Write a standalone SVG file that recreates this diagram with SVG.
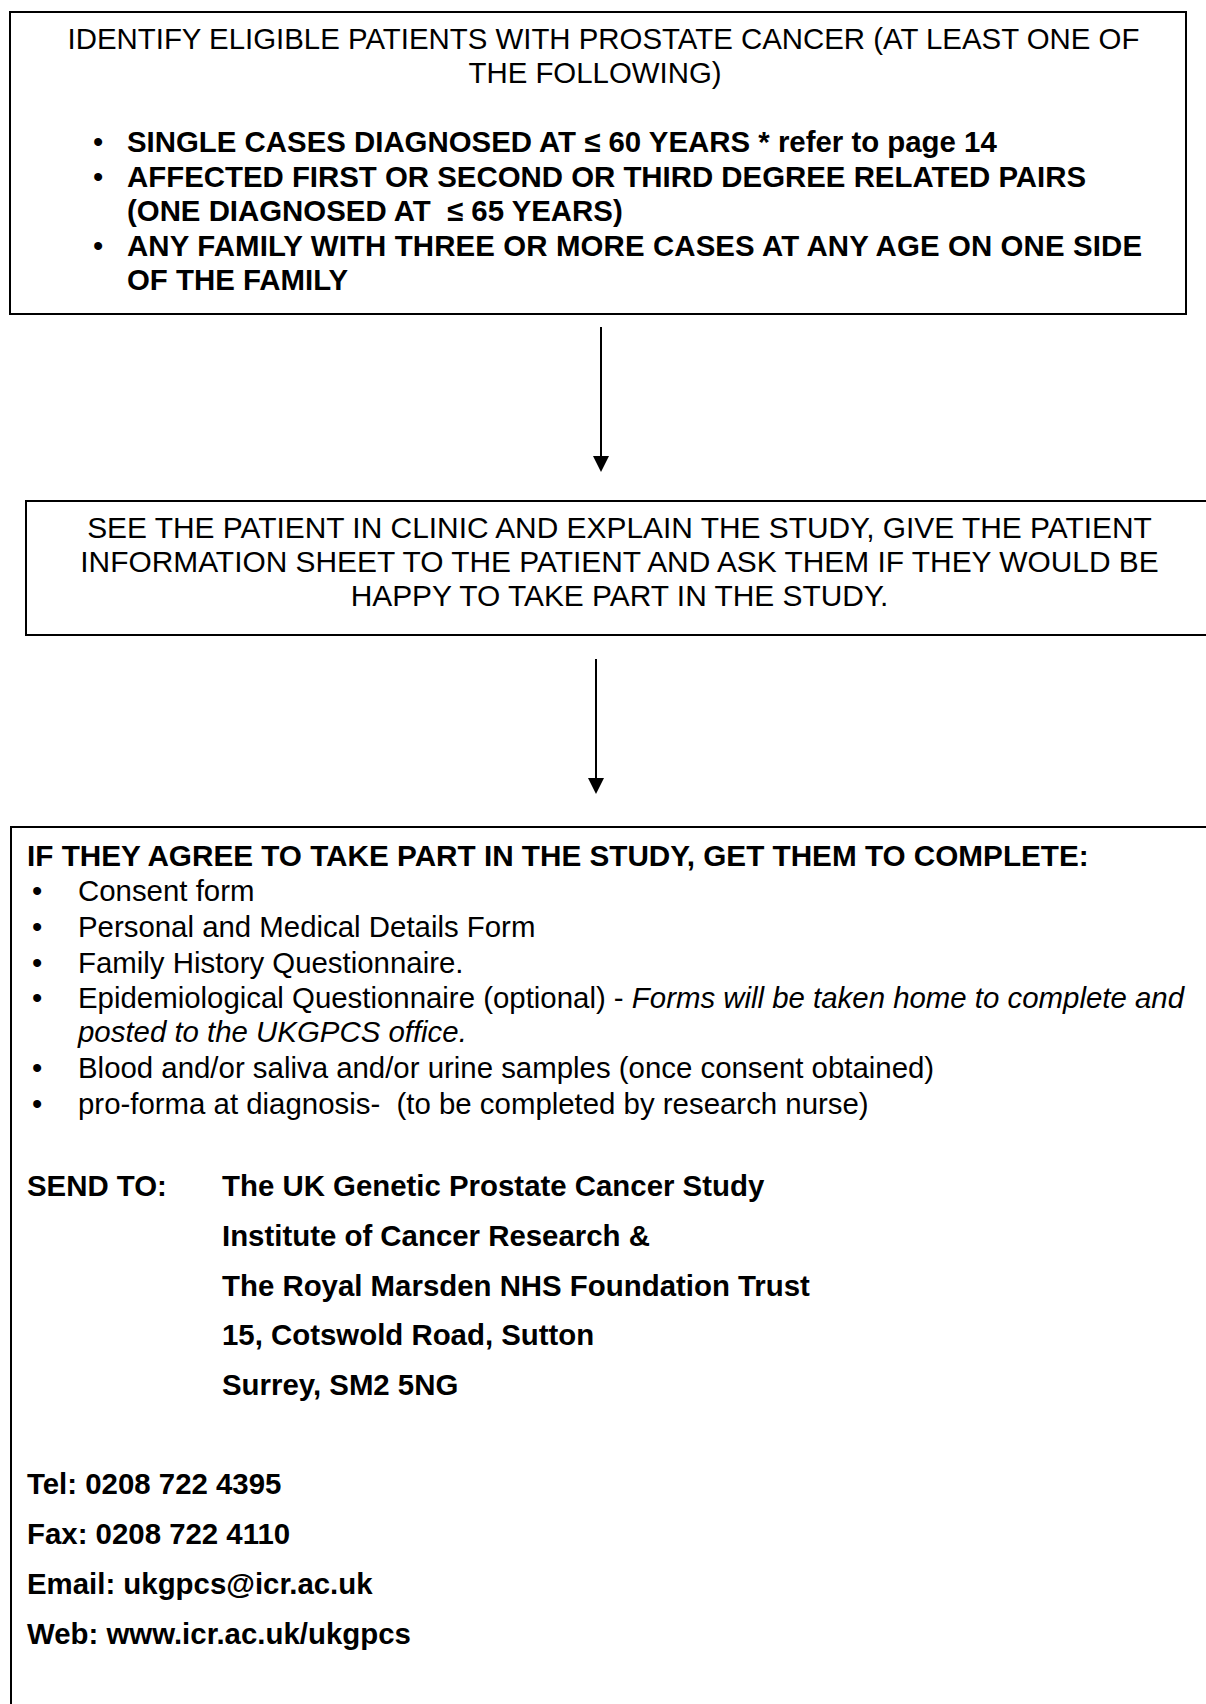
<svg xmlns="http://www.w3.org/2000/svg" width="1206" height="1704" viewBox="0 0 1206 1704">
<style>
text{font-family:"Liberation Sans",Arial,sans-serif;font-size:29.4px;fill:#000;white-space:pre}
.b{font-weight:bold}
.i{font-style:italic}
.c{text-anchor:middle}
.w{font-size:29.9px}
.h{font-size:29.7px}
.box{fill:#fff;stroke:#000;stroke-width:2}
.conn{stroke:#000;stroke-width:2;fill:none}
</style>
<defs>
<marker id="ah" viewBox="0 0 16 16" refX="4" refY="8" markerWidth="16" markerHeight="16" markerUnits="userSpaceOnUse" orient="auto">
<path d="M0,0 L16,8 L0,16 z" fill="#000"/>
</marker>
</defs>
<rect width="1206" height="1704" fill="#fff"/>
<g id="connectors">
<line class="conn" x1="601" y1="327" x2="601" y2="460" marker-end="url(#ah)"/>
<line class="conn" x1="596" y1="659" x2="596" y2="782" marker-end="url(#ah)"/>
</g>
<g id="node-eligibility">
<rect class="box" x="10" y="12" width="1176" height="302"/>
<text class="c" x="603.5" y="49">IDENTIFY ELIGIBLE PATIENTS WITH PROSTATE CANCER (AT LEAST ONE OF</text>
<text class="c" x="595" y="83">THE FOLLOWING)</text>
<text x="93" y="152">•</text>
<text class="b" x="127" y="152">SINGLE CASES DIAGNOSED AT ≤ 60 YEARS * refer to page 14</text>
<text x="93" y="187">•</text>
<text class="b" x="127" y="187">AFFECTED FIRST OR SECOND OR THIRD DEGREE RELATED PAIRS</text>
<text class="b" x="127" y="221">(ONE DIAGNOSED AT  ≤ 65 YEARS)</text>
<text x="93" y="256">•</text>
<text class="b" x="127" y="256" textLength="1015" lengthAdjust="spacing">ANY FAMILY WITH THREE OR MORE CASES AT ANY AGE ON ONE SIDE</text>
<text class="b" x="127" y="290">OF THE FAMILY</text>
</g>
<g id="node-clinic">
<rect class="box" x="26" y="501" width="1200" height="134"/>
<text class="c w" x="619.5" y="538">SEE THE PATIENT IN CLINIC AND EXPLAIN THE STUDY, GIVE THE PATIENT</text>
<text class="c w" x="619.5" y="572">INFORMATION SHEET TO THE PATIENT AND ASK THEM IF THEY WOULD BE</text>
<text class="c w" x="619.5" y="606">HAPPY TO TAKE PART IN THE STUDY.</text>
</g>
<g id="node-complete">
<rect class="box" x="11" y="827" width="1220" height="900"/>
<text class="b h" x="27" y="866">IF THEY AGREE TO TAKE PART IN THE STUDY, GET THEM TO COMPLETE:</text>
<text x="32" y="901">•</text>
<text x="78" y="901">Consent form</text>
<text x="32" y="937">•</text>
<text x="78" y="937">Personal and Medical Details Form</text>
<text x="32" y="973">•</text>
<text x="78" y="973">Family History Questionnaire.</text>
<text x="32" y="1008">•</text>
<text x="78" y="1008">Epidemiological Questionnaire (optional) - <tspan class="i">Forms will be taken home to complete and</tspan></text>
<text class="i" x="78" y="1042">posted to the UKGPCS office.</text>
<text x="32" y="1078">•</text>
<text x="78" y="1078">Blood and/or saliva and/or urine samples (once consent obtained)</text>
<text x="32" y="1114">•</text>
<text x="78" y="1114">pro-forma at diagnosis-  (to be completed by research nurse)</text>
<text class="b" x="27" y="1196">SEND TO:</text>
<text class="b" x="222" y="1196">The UK Genetic Prostate Cancer Study</text>
<text class="b" x="222" y="1246">Institute of Cancer Research &amp;</text>
<text class="b" x="222" y="1296">The Royal Marsden NHS Foundation Trust</text>
<text class="b" x="222" y="1345">15, Cotswold Road, Sutton</text>
<text class="b" x="222" y="1395">Surrey, SM2 5NG</text>
<text class="b" x="27" y="1494">Tel: 0208 722 4395</text>
<text class="b" x="27" y="1544">Fax: 0208 722 4110</text>
<text class="b" x="27" y="1594">Email: ukgpcs@icr.ac.uk</text>
<text class="b" x="27" y="1644">Web: www.icr.ac.uk/ukgpcs</text>
</g>
</svg>
